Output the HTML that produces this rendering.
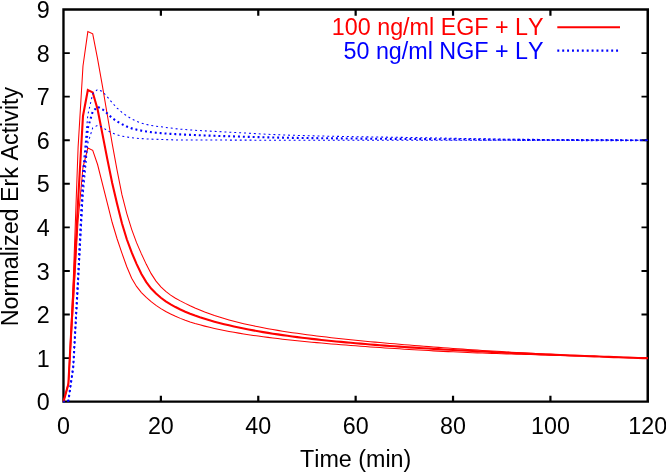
<!DOCTYPE html>
<html><head><meta charset="utf-8"><title>Erk Activity</title>
<style>
html,body{margin:0;padding:0;background:#fff;}
body{width:666px;height:474px;overflow:hidden;}
svg{display:block;will-change:transform;font-kerning:none;font-family:"Liberation Sans",sans-serif;}
</style></head><body>
<svg width="666" height="474" viewBox="0 0 666 474">
<rect x="0" y="0" width="666" height="474" fill="#fff"/>
<g fill="none" stroke="#000">
<path d="M62.3 8.32 H649 V402.8 H62.3 Z M64.65 10.71 V400.55 H646.5 V10.71 Z" fill="#000" fill-rule="evenodd" stroke="none"/>
<path d="M63.50 358.12 h6.30 M647.80 358.12 h-6.30 M63.50 314.54 h6.30 M647.80 314.54 h-6.30 M63.50 270.97 h6.30 M647.80 270.97 h-6.30 M63.50 227.39 h6.30 M647.80 227.39 h-6.30 M63.50 183.81 h6.30 M647.80 183.81 h-6.30 M63.50 140.23 h6.30 M647.80 140.23 h-6.30 M63.50 96.66 h6.30 M647.80 96.66 h-6.30 M63.50 53.08 h6.30 M647.80 53.08 h-6.30" stroke-width="1.9"/>
<path d="M160.88 401.70 v-5.85 M160.88 9.50 v6.30 M258.27 401.70 v-5.85 M258.27 9.50 v6.30 M355.65 401.70 v-5.85 M355.65 9.50 v6.30 M453.03 401.70 v-5.85 M453.03 9.50 v6.30 M550.42 401.70 v-5.85 M550.42 9.50 v6.30" stroke-width="2.2"/>
</g>
<g font-size="23.3" fill="#000">
<g text-anchor="end">
<text x="49.6" y="410.30">0</text>
<text x="49.6" y="366.72">1</text>
<text x="49.6" y="323.14">2</text>
<text x="49.6" y="279.57">3</text>
<text x="49.6" y="235.99">4</text>
<text x="49.6" y="192.41">5</text>
<text x="49.6" y="148.83">6</text>
<text x="49.6" y="105.26">7</text>
<text x="49.6" y="61.68">8</text>
<text x="49.6" y="18.10">9</text>
</g><g text-anchor="middle">
<text x="63.50" y="433.5">0</text>
<text x="160.88" y="433.5">20</text>
<text x="258.27" y="433.5">40</text>
<text x="355.65" y="433.5">60</text>
<text x="453.03" y="433.5">80</text>
<text x="550.42" y="433.5">100</text>
<text x="647.80" y="433.5">120</text>
<text x="355.65" y="467.2">Time (min)</text>
<text transform="translate(17.7 206.5) rotate(-90)">Normalized Erk Activity</text>
</g>
<g text-anchor="end"><text x="543.6" y="34.8" fill="#ff0000">100 ng/ml EGF + LY</text>
<text x="543.6" y="58.9" fill="#0000ff">50 ng/ml NGF + LY</text></g>
</g>
<g fill="none" stroke-linejoin="miter" stroke="#ff0000">
<path d="M557.3 27.2 H620" stroke-width="2.1"/>
<path d="M63.50 401.70 L68.37 384.00 L73.24 294.00 L78.11 200.50 L82.98 116.00 L87.85 90.00 L92.72 92.40 L97.58 109.20 L102.45 134.10 L107.32 159.08 L112.19 182.91 L117.06 203.73 L121.93 223.19 L126.80 239.26 L131.67 252.47 L136.54 263.86 L141.41 273.91 L146.28 282.14 L151.14 288.53 L156.01 293.60 L160.88 297.76 L165.75 301.27 L170.62 304.33 L175.49 307.05 L180.36 309.49 L185.23 311.69 L190.10 313.69 L194.97 315.52 L199.84 317.21 L204.71 318.78 L209.57 320.25 L214.44 321.64 L219.31 322.94 L224.18 324.18 L229.05 325.35 L233.92 326.46 L238.79 327.52 L243.66 328.52 L248.53 329.48 L253.40 330.39 L258.27 331.27 L263.14 332.11 L268.00 332.91 L272.87 333.68 L277.74 334.41 L282.61 335.12 L287.48 335.80 L292.35 336.46 L297.22 337.09 L302.09 337.70 L306.96 338.29 L311.83 338.86 L316.70 339.41 L321.57 339.94 L326.44 340.46 L331.30 340.96 L336.17 341.44 L341.04 341.91 L345.91 342.37 L350.78 342.81 L355.65 343.25 L360.52 343.67 L365.39 344.07 L370.26 344.47 L375.13 344.86 L380.00 345.24 L384.86 345.61 L389.73 345.97 L394.60 346.32 L399.47 346.66 L404.34 347.00 L409.21 347.33 L414.08 347.65 L418.95 347.96 L423.82 348.27 L428.69 348.57 L433.56 348.87 L438.43 349.16 L443.29 349.44 L448.16 349.72 L453.03 350.00 L457.90 350.27 L462.77 350.53 L467.64 350.79 L472.51 351.05 L477.38 351.30 L482.25 351.54 L487.12 351.79 L491.99 352.03 L496.86 352.26 L501.72 352.50 L506.59 352.72 L511.46 352.95 L516.33 353.17 L521.20 353.39 L526.07 353.61 L530.94 353.82 L535.81 354.03 L540.68 354.24 L545.55 354.44 L550.42 354.65 L555.29 354.85 L560.15 355.05 L565.02 355.24 L569.89 355.43 L574.76 355.63 L579.63 355.81 L584.50 356.00 L589.37 356.19 L594.24 356.37 L599.11 356.55 L603.98 356.73 L608.85 356.91 L613.72 357.08 L618.58 357.26 L623.45 357.43 L628.32 357.60 L633.19 357.77 L638.06 357.94 L642.93 358.10 L647.80 358.15" stroke-width="2.1"/>
<path d="M63.50 401.70 L68.37 383.00 L73.24 281.00 L78.11 147.00 L82.98 66.00 L87.85 31.60 L92.72 33.80 L97.58 58.90 L102.45 86.10 L107.32 115.00 L112.19 143.60 L117.06 170.16 L121.93 194.68 L126.80 213.57 L131.67 229.32 L136.54 242.64 L141.41 253.90 L146.28 264.35 L151.14 273.62 L156.01 281.14 L160.88 286.94 L165.75 291.47 L170.62 295.12 L175.49 298.19 L180.36 300.89 L185.23 303.40 L190.10 305.75 L194.97 307.95 L199.84 310.00 L204.71 311.93 L209.57 313.73 L214.44 315.43 L219.31 317.01 L224.18 318.51 L229.05 319.91 L233.92 321.23 L238.79 322.47 L243.66 323.64 L248.53 324.75 L253.40 325.81 L258.27 326.81 L263.14 327.76 L268.00 328.67 L272.87 329.53 L277.74 330.36 L282.61 331.16 L287.48 331.92 L292.35 332.65 L297.22 333.35 L302.09 334.03 L306.96 334.69 L311.83 335.32 L316.70 335.93 L321.57 336.53 L326.44 337.10 L331.30 337.66 L336.17 338.21 L341.04 338.74 L345.91 339.25 L350.78 339.76 L355.65 340.25 L360.52 340.73 L365.39 341.20 L370.26 341.66 L375.13 342.12 L380.00 342.56 L384.86 343.00 L389.73 343.43 L394.60 343.85 L399.47 344.27 L404.34 344.68 L409.21 345.08 L414.08 345.48 L418.95 345.87 L423.82 346.25 L428.69 346.63 L433.56 347.00 L438.43 347.37 L443.29 347.73 L448.16 348.08 L453.03 348.43 L457.90 348.78 L462.77 349.11 L467.64 349.44 L472.51 349.77 L477.38 350.09 L482.25 350.40 L487.12 350.71 L491.99 351.02 L496.86 351.32 L501.72 351.61 L506.59 351.90 L511.46 352.18 L516.33 352.46 L521.20 352.73 L526.07 353.00 L530.94 353.26 L535.81 353.52 L540.68 353.77 L545.55 354.02 L550.42 354.27 L555.29 354.51 L560.15 354.74 L565.02 354.97 L569.89 355.20 L574.76 355.42 L579.63 355.64 L584.50 355.85 L589.37 356.06 L594.24 356.26 L599.11 356.46 L603.98 356.66 L608.85 356.85 L613.72 357.04 L618.58 357.23 L623.45 357.41 L628.32 357.59 L633.19 357.76 L638.06 357.93 L642.93 358.10 L647.80 358.15" stroke-width="1.05"/>
<path d="M63.50 401.70 L68.37 385.00 L73.24 305.50 L78.11 220.00 L82.98 167.30 L87.85 148.10 L92.72 150.40 L97.58 164.50 L102.45 183.80 L107.32 203.15 L112.19 222.52 L117.06 238.75 L121.93 253.18 L126.80 266.76 L131.67 278.15 L136.54 286.45 L141.41 292.54 L146.28 297.45 L151.14 301.70 L156.01 305.40 L160.88 308.64 L165.75 311.51 L170.62 314.06 L175.49 316.33 L180.36 318.38 L185.23 320.22 L190.10 321.90 L194.97 323.43 L199.84 324.83 L204.71 326.13 L209.57 327.33 L214.44 328.44 L219.31 329.49 L224.18 330.47 L229.05 331.40 L233.92 332.28 L238.79 333.12 L243.66 333.92 L248.53 334.68 L253.40 335.40 L258.27 336.09 L263.14 336.76 L268.00 337.39 L272.87 338.00 L277.74 338.59 L282.61 339.16 L287.48 339.70 L292.35 340.23 L297.22 340.74 L302.09 341.23 L306.96 341.71 L311.83 342.17 L316.70 342.62 L321.57 343.06 L326.44 343.49 L331.30 343.90 L336.17 344.31 L341.04 344.70 L345.91 345.09 L350.78 345.46 L355.65 345.83 L360.52 346.19 L365.39 346.55 L370.26 346.90 L375.13 347.24 L380.00 347.57 L384.86 347.90 L389.73 348.22 L394.60 348.54 L399.47 348.85 L404.34 349.16 L409.21 349.46 L414.08 349.76 L418.95 350.04 L423.82 350.33 L428.69 350.60 L433.56 350.86 L438.43 351.12 L443.29 351.37 L448.16 351.61 L453.03 351.85 L457.90 352.07 L462.77 352.29 L467.64 352.49 L472.51 352.69 L477.38 352.88 L482.25 353.06 L487.12 353.23 L491.99 353.40 L496.86 353.56 L501.72 353.72 L506.59 353.87 L511.46 354.02 L516.33 354.17 L521.20 354.31 L526.07 354.45 L530.94 354.59 L535.81 354.73 L540.68 354.86 L545.55 355.00 L550.42 355.13 L555.29 355.27 L560.15 355.40 L565.02 355.54 L569.89 355.68 L574.76 355.82 L579.63 355.96 L584.50 356.10 L589.37 356.24 L594.24 356.39 L599.11 356.54 L603.98 356.69 L608.85 356.84 L613.72 357.00 L618.58 357.16 L623.45 357.32 L628.32 357.49 L633.19 357.66 L638.06 357.83 L642.93 358.01 L647.80 358.15" stroke-width="1.05"/>
</g>
<g fill="none" stroke-linejoin="miter" stroke="#0000ff" stroke-dasharray="1.96 2.94">
<path d="M557.3 50.6 H620" stroke-width="2.1"/>
<path d="M647.80 140.20 L642.93 140.20 L638.06 140.20 L633.19 140.19 L628.32 140.19 L623.45 140.18 L618.58 140.17 L613.72 140.17 L608.85 140.16 L603.98 140.15 L599.11 140.13 L594.24 140.12 L589.37 140.11 L584.50 140.09 L579.63 140.08 L574.76 140.06 L569.89 140.05 L565.02 140.03 L560.15 140.01 L555.29 140.00 L550.42 139.98 L545.55 139.96 L540.68 139.94 L535.81 139.92 L530.94 139.90 L526.07 139.88 L521.20 139.86 L516.33 139.83 L511.46 139.80 L506.59 139.77 L501.72 139.74 L496.86 139.70 L491.99 139.67 L487.12 139.63 L482.25 139.59 L477.38 139.56 L472.51 139.52 L467.64 139.48 L462.77 139.44 L457.90 139.41 L453.03 139.37 L448.16 139.33 L443.29 139.29 L438.43 139.24 L433.56 139.20 L428.69 139.16 L423.82 139.12 L418.95 139.08 L414.08 139.03 L409.21 138.99 L404.34 138.95 L399.47 138.91 L394.60 138.88 L389.73 138.84 L384.86 138.80 L380.00 138.76 L375.13 138.72 L370.26 138.68 L365.39 138.64 L360.52 138.60 L355.65 138.55 L350.78 138.51 L345.91 138.46 L341.04 138.41 L336.17 138.37 L331.30 138.32 L326.44 138.27 L321.57 138.21 L316.70 138.16 L311.83 138.10 L306.96 138.04 L302.09 137.98 L297.22 137.91 L292.35 137.84 L287.48 137.76 L282.61 137.67 L277.74 137.58 L272.87 137.47 L268.00 137.36 L263.14 137.24 L258.27 137.11 L253.40 136.98 L248.53 136.85 L243.66 136.71 L238.79 136.57 L233.92 136.42 L229.05 136.27 L224.18 136.12 L219.31 135.96 L214.44 135.80 L209.57 135.63 L204.71 135.45 L199.84 135.26 L194.97 135.07 L190.10 134.86 L185.23 134.64 L180.36 134.41 L175.49 134.15 L170.62 133.84 L165.75 133.51 L160.88 133.16 L156.01 132.71 L151.14 132.14 L146.28 131.46 L141.41 130.63 L136.54 129.63 L131.67 128.39 L126.80 126.59 L121.93 124.14 L117.06 121.45 L112.19 118.11 L107.32 113.51 L102.45 109.30 L97.58 106.80 L92.72 111.50 L87.85 128.00 L82.98 183.00 L78.11 279.00 L73.24 367.00 L68.37 400.70 L63.50 401.70" stroke-width="2.1" stroke-dashoffset="-1.2"/>
<path d="M647.80 140.20 L642.93 140.20 L638.06 140.19 L633.19 140.18 L628.32 140.17 L623.45 140.16 L618.58 140.14 L613.72 140.12 L608.85 140.10 L603.98 140.07 L599.11 140.05 L594.24 140.02 L589.37 139.98 L584.50 139.95 L579.63 139.92 L574.76 139.88 L569.89 139.84 L565.02 139.80 L560.15 139.76 L555.29 139.72 L550.42 139.68 L545.55 139.64 L540.68 139.60 L535.81 139.55 L530.94 139.51 L526.07 139.46 L521.20 139.41 L516.33 139.35 L511.46 139.28 L506.59 139.21 L501.72 139.13 L496.86 139.06 L491.99 138.97 L487.12 138.89 L482.25 138.81 L477.38 138.72 L472.51 138.64 L467.64 138.56 L462.77 138.48 L457.90 138.39 L453.03 138.30 L448.16 138.21 L443.29 138.11 L438.43 138.02 L433.56 137.93 L428.69 137.83 L423.82 137.74 L418.95 137.65 L414.08 137.57 L409.21 137.49 L404.34 137.41 L399.47 137.34 L394.60 137.27 L389.73 137.20 L384.86 137.13 L380.00 137.06 L375.13 137.00 L370.26 136.93 L365.39 136.85 L360.52 136.78 L355.65 136.70 L350.78 136.61 L345.91 136.52 L341.04 136.43 L336.17 136.34 L331.30 136.24 L326.44 136.14 L321.57 136.04 L316.70 135.93 L311.83 135.81 L306.96 135.69 L302.09 135.56 L297.22 135.42 L292.35 135.27 L287.48 135.12 L282.61 134.94 L277.74 134.74 L272.87 134.52 L268.00 134.29 L263.14 134.04 L258.27 133.78 L253.40 133.52 L248.53 133.24 L243.66 132.97 L238.79 132.69 L233.92 132.42 L229.05 132.15 L224.18 131.89 L219.31 131.63 L214.44 131.38 L209.57 131.12 L204.71 130.86 L199.84 130.57 L194.97 130.27 L190.10 129.94 L185.23 129.58 L180.36 129.18 L175.49 128.69 L170.62 128.05 L165.75 127.40 L160.88 126.81 L156.01 126.19 L151.14 125.41 L146.28 124.44 L141.41 123.08 L136.54 121.28 L131.67 118.90 L126.80 115.92 L121.93 112.38 L117.06 108.02 L112.19 102.75 L107.32 96.83 L102.45 91.60 L97.58 89.40 L92.72 93.90 L87.85 114.70 L82.98 168.50 L78.11 271.00 L73.24 364.70 L68.37 400.60 L63.50 401.70" stroke-width="1.05" stroke-dashoffset="-0.1"/>
<path d="M647.80 140.20 L642.93 140.20 L638.06 140.20 L633.19 140.20 L628.32 140.20 L623.45 140.20 L618.58 140.20 L613.72 140.20 L608.85 140.20 L603.98 140.20 L599.11 140.20 L594.24 140.20 L589.37 140.20 L584.50 140.20 L579.63 140.20 L574.76 140.20 L569.89 140.20 L565.02 140.20 L560.15 140.20 L555.29 140.20 L550.42 140.20 L545.55 140.20 L540.68 140.20 L535.81 140.20 L530.94 140.20 L526.07 140.20 L521.20 140.20 L516.33 140.20 L511.46 140.20 L506.59 140.20 L501.72 140.20 L496.86 140.20 L491.99 140.20 L487.12 140.20 L482.25 140.20 L477.38 140.20 L472.51 140.20 L467.64 140.20 L462.77 140.20 L457.90 140.20 L453.03 140.20 L448.16 140.20 L443.29 140.20 L438.43 140.20 L433.56 140.20 L428.69 140.20 L423.82 140.20 L418.95 140.20 L414.08 140.20 L409.21 140.20 L404.34 140.20 L399.47 140.20 L394.60 140.20 L389.73 140.20 L384.86 140.20 L380.00 140.20 L375.13 140.20 L370.26 140.20 L365.39 140.20 L360.52 140.20 L355.65 140.20 L350.78 140.20 L345.91 140.20 L341.04 140.20 L336.17 140.20 L331.30 140.20 L326.44 140.20 L321.57 140.20 L316.70 140.20 L311.83 140.20 L306.96 140.20 L302.09 140.20 L297.22 140.20 L292.35 140.20 L287.48 140.20 L282.61 140.20 L277.74 140.19 L272.87 140.19 L268.00 140.18 L263.14 140.17 L258.27 140.16 L253.40 140.15 L248.53 140.14 L243.66 140.13 L238.79 140.12 L233.92 140.11 L229.05 140.10 L224.18 140.09 L219.31 140.08 L214.44 140.08 L209.57 140.07 L204.71 140.07 L199.84 140.06 L194.97 140.05 L190.10 140.04 L185.23 140.02 L180.36 140.00 L175.49 139.94 L170.62 139.79 L165.75 139.62 L160.88 139.47 L156.01 139.32 L151.14 139.13 L146.28 138.89 L141.41 138.60 L136.54 138.24 L131.67 137.74 L126.80 137.05 L121.93 136.09 L117.06 134.77 L112.19 133.02 L107.32 130.63 L102.45 127.20 L97.58 125.40 L92.72 127.80 L87.85 143.20 L82.98 197.00 L78.11 286.00 L73.24 369.00 L68.37 400.80 L63.50 401.70" stroke-width="1.05" stroke-dashoffset="0.6"/>
</g>
</svg>
</body></html>
